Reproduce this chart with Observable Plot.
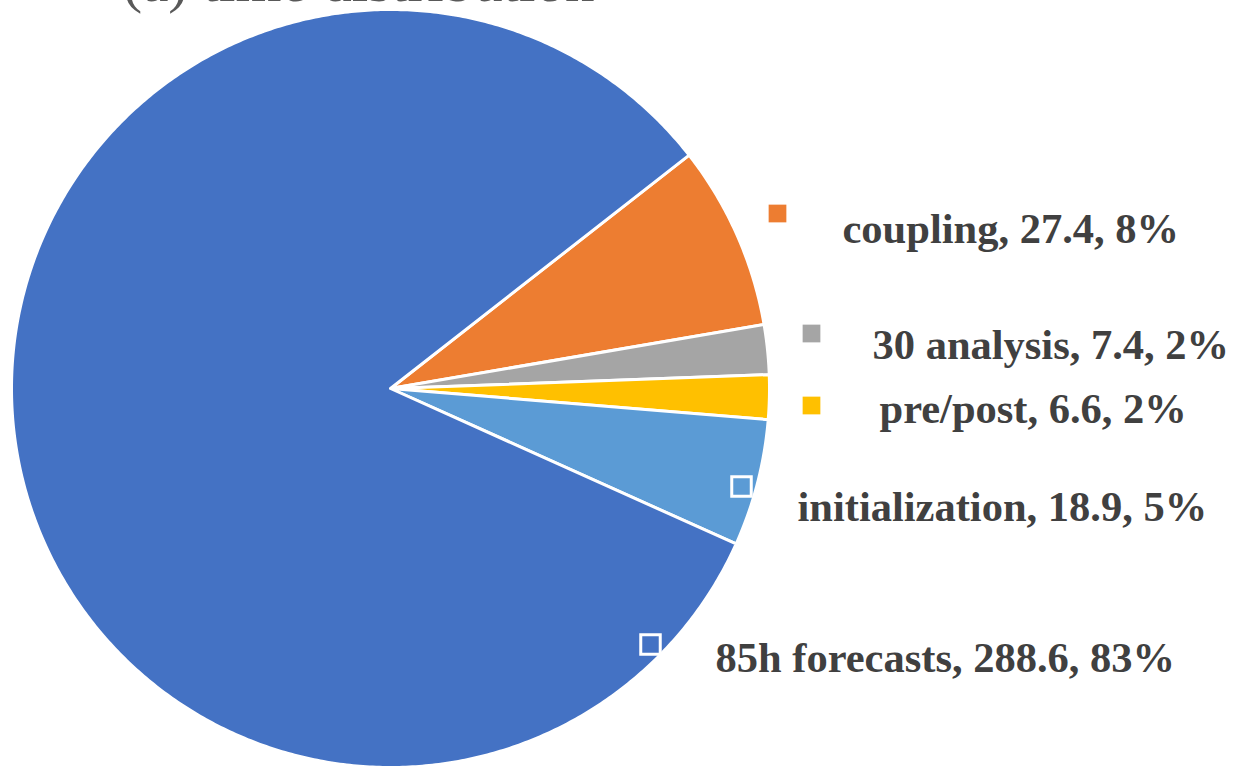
<!DOCTYPE html>
<html>
<head>
<meta charset="utf-8">
<script src="https://cdn.jsdelivr.net/npm/d3@7"></script>
<script src="https://cdn.jsdelivr.net/npm/@observablehq/plot@0.6"></script>
<style>
  html, body { margin: 0; padding: 0; background: #fff; }
  #chart svg { display: block; }
</style>
</head>
<body>
<div id="chart"></div>
<script>
// ---- data ----
const categories = ["coupling", "30 analysis", "pre/post", "initialization", "85h forecasts"];
const times = [27.4, 7.4, 6.6, 18.9, 288.6];
const percents = ["8%", "2%", "2%", "5%", "83%"];
const colors = ["#ED7D31", "#A5A5A5", "#FFC000", "#5B9BD5", "#4472C4"];
const titleText = "(a) time distribution";

// ---- layout (pixels) ----
const W = 1236, H = 768;
const cx = 390, cy = 388, R = 379;
const startDeg = 52;
// label layout: text start x, text middle y, key centre x, y, key style
const labelLayout = [
  {tx: 842, ty: 229, kx: 777, ky: 213, outline: false},
  {tx: 872, ty: 345, kx: 811, ky: 333, outline: false},
  {tx: 879, ty: 409, kx: 811, ky: 405, outline: false},
  {tx: 797, ty: 507, kx: 741, ky: 486, outline: true},
  {tx: 715, ty: 658, kx: 650, ky: 644, outline: true}
];
const toX = px => (px - cx) / R;
const toY = py => (py - cy) / R;

const slices = categories.map((name, i) => ({name, value: times[i], pct: percents[i], color: colors[i]}));
const pie = d3.pie().sort(null).value(d => d.value)
  .startAngle(startDeg * Math.PI / 180)
  .endAngle(startDeg * Math.PI / 180 + 2 * Math.PI);
const arcs = pie(slices);

function slicePolygon(a) {
  const pts = [{x: 0, y: 0}];
  const n = Math.max(4, Math.ceil((a.endAngle - a.startAngle) / (Math.PI / 360)));
  for (let k = 0; k <= n; k++) {
    const t = a.startAngle + (a.endAngle - a.startAngle) * k / n;
    pts.push({x: Math.sin(t), y: -Math.cos(t)});
  }
  return pts;
}

const labels = slices.map((d, i) => ({
  text: `${d.name}, ${d.value}, ${d.pct}`,
  x: toX(labelLayout[i].tx), y: toY(labelLayout[i].ty),
  kx: toX(labelLayout[i].kx), ky: toY(labelLayout[i].ky),
  outline: labelLayout[i].outline, color: d.color
}));

const marks = [];
arcs.forEach(a => {
  marks.push(Plot.line(slicePolygon(a), {
    x: "x", y: "y", fill: a.data.color, stroke: "white", strokeWidth: 3,
    strokeLinejoin: "round", curve: "linear-closed"
  }));
});
marks.push(Plot.dot(labels.filter(d => !d.outline), {
  x: "kx", y: "ky", symbol: "square", r: 10, fill: d => d.color, stroke: "none"
}));
marks.push(Plot.dot(labels.filter(d => d.outline), {
  x: "kx", y: "ky", symbol: "square", r: 11, fill: d => d.color, stroke: "white", strokeWidth: 3
}));
marks.push(Plot.text(labels, {
  x: "x", y: "y", text: "text", textAnchor: "start",
  fontFamily: "Liberation Serif", fontWeight: "bold", fontSize: 42.5, fill: "#404040"
}));
marks.push(Plot.text([titleText], {
  x: toX(122), y: toY(-18), text: d => d, textAnchor: "start",
  fontFamily: "Liberation Serif", fontSize: 59, fill: "#595959"
}));

const chart = Plot.plot({
  width: W, height: H,
  marginTop: 0, marginRight: 0, marginBottom: 0, marginLeft: 0,
  x: {type: "linear", domain: [toX(0), toX(W)], range: [0, W], axis: null},
  y: {type: "linear", domain: [toY(0), toY(H)], range: [0, H], axis: null},
  style: {background: "white", overflow: "hidden"},
  marks
});
document.getElementById("chart").append(chart);
</script>
</body>
</html>
